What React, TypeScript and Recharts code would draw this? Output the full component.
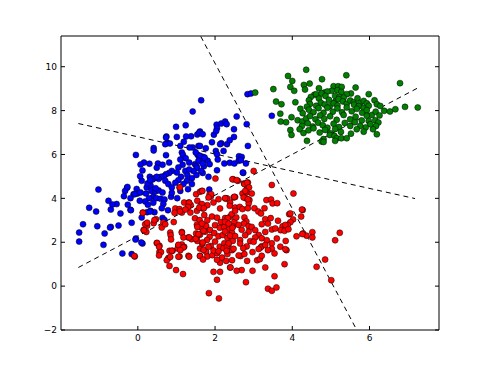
import { ReferenceLine, Scatter, ScatterChart, XAxis, YAxis } from "recharts";

type Pt = [number, number];

// points, in data units
const blue: Pt[] = [
  [1.64, 8.47], [1.42, 7.96], [1.24, 7.33], [0.99, 7.26], [1.61, 7.05], [1.54, 6.91], [1.38, 6.83], [1.25, 6.82],
  [0.74, 6.82], [0.76, 6.53], [0.83, 6.5], [1.19, 6.58], [1.42, 6.32], [0.41, 6.29], [0.41, 6.18], [1.14, 6.09],
  [1.17, 5.98], [0.73, 5.97], [-0.05, 5.98], [1.24, 5.83], [1.1, 5.77], [1.33, 5.63], [1.48, 5.56], [0.16, 5.63],
  [0.07, 5.54], [0.52, 5.59], [0.64, 5.53], [0.81, 5.63], [0.12, 5.27], [0.88, 5.25], [0.81, 5.16], [0.73, 5.1],
  [0.67, 5.01], [0.6, 4.98], [0.54, 4.89], [0.43, 4.92], [1.23, 5.25], [1.28, 5.06], [1.12, 4.98], [1.05, 4.83],
  [0.97, 4.71], [0.31, 4.98], [0.38, 4.86], [1.4, 4.92], [1.52, 5.07], [-0.28, 4.48], [-0.33, 4.34], [-0.03, 4.43],
  [0.23, 4.5], [0.33, 4.59], [-1.02, 4.4], [-0.01, 4.22], [0.07, 4.27], [0.21, 4.22], [0.35, 4.34], [0.45, 4.31],
  [0.54, 4.36], [0.64, 4.27], [0.4, 4.07], [0.48, 4.01], [0.59, 3.98], [0.69, 3.95], [0.29, 4.01], [0.19, 3.86],
  [0.05, 3.89], [0.26, 3.71], [0.4, 3.8], [0.66, 3.74], [0.62, 3.55], [0.86, 4.07], [0.88, 4.25], [1.02, 4.01],
  [0.43, 3.37], [0.33, 3.43], [-0.26, 3.71], [-0.19, 3.48], [-0.55, 3.74], [-0.66, 3.72], [-0.7, 3.49], [-1.26, 3.57],
  [-1.08, 3.4], [-0.45, 3.31], [0.64, 3.11], [0.69, 3.01], [-0.16, 2.89], [-1.42, 2.82], [-1.05, 2.73], [-0.7, 2.7],
  [-0.5, 2.76], [-0.86, 2.4], [-1.52, 2.44], [-1.52, 2.03], [-0.05, 2.17], [0.12, 1.94], [-0.89, 1.88], [-0.4, 1.49],
  [-0.16, 1.46], [2.84, 8.75], [2.93, 8.78], [2.56, 7.73], [2.04, 7.36], [2.16, 7.41], [2.26, 7.5], [2.3, 7.38],
  [2.05, 7.2], [2.49, 7.15], [2.82, 7.38], [1.59, 7.0], [1.68, 6.92], [1.97, 6.9], [2.49, 6.8], [1.92, 6.56],
  [2.16, 6.51], [2.31, 6.47], [2.38, 6.65], [1.57, 6.39], [2.85, 6.39], [1.76, 6.28], [2.02, 6.16], [2.05, 6.01],
  [2.07, 5.77], [1.55, 5.98], [1.6, 5.86], [1.69, 5.89], [1.74, 5.77], [1.81, 5.71], [1.66, 5.68], [2.62, 5.92],
  [2.61, 5.71], [2.38, 5.62], [2.24, 5.59], [2.5, 5.59], [2.8, 5.59], [1.52, 5.48], [1.71, 5.46], [1.86, 5.56],
  [2.05, 5.28], [2.73, 5.16], [1.68, 5.16], [1.83, 4.98], [1.85, 4.4], [3.47, 7.76], [2.69, 5.89], [2.67, 5.74],
  [2.72, 5.18], [1.5, 6.09], [1.61, 5.94], [1.73, 5.86], [1.57, 5.71], [1.68, 5.59], [1.53, 5.38], [1.64, 5.25],
  [1.44, 5.25], [1.33, 5.32], [1.16, 5.53], [1.05, 5.41], [1.01, 5.18], [1.27, 4.8], [1.18, 4.65], [1.4, 4.65],
  [1.3, 4.42], [1.1, 4.34], [0.71, 4.8], [0.79, 4.65], [0.88, 4.5], [0.1, 4.8], [-0.11, 4.19], [-0.19, 4.01],
  [-0.36, 4.1], [-0.76, 3.89], [0.24, 3.37], [0.78, 3.46], [0.1, 3.13], [-0.27, 4.52], [-0.08, 4.19], [0.06, 5.01],
  [0.25, 4.68], [0.32, 4.83], [0.46, 4.46], [0.49, 4.98], [0.32, 3.4], [-0.72, 2.67], [-0.18, 3.46], [0.09, 1.99],
  [-0.06, 2.12], [0.73, 6.77], [0.71, 6.47], [1.01, 6.8], [1.1, 6.39], [1.34, 6.32], [1.61, 6.39], [2.03, 7.07],
  [2.13, 6.47], [2.22, 6.16], [0.3, 5.58], [0.49, 5.4],
];

const red: Pt[] = [
  [2.01, 4.9], [1.08, 4.49], [1.51, 4.19], [1.61, 4.3], [1.86, 4.19], [1.89, 4.08], [1.2, 3.81], [1.32, 3.81],
  [1.37, 3.69], [0.97, 3.54], [1.08, 3.51], [1.14, 3.35], [1.36, 3.35], [1.53, 3.43], [1.68, 3.54], [1.8, 3.69],
  [1.96, 3.81], [2.09, 3.96], [2.13, 3.54], [2.27, 3.99], [2.39, 3.81], [2.48, 4.04], [0.13, 3.35], [0.47, 3.05],
  [0.41, 2.87], [0.24, 2.75], [0.15, 2.56], [0.22, 2.47], [0.84, 2.44], [0.85, 2.32], [0.66, 2.9], [0.62, 2.67],
  [1.14, 2.47], [1.31, 2.22], [1.39, 2.14], [1.53, 2.26], [0.49, 1.96], [0.56, 1.84], [1.05, 1.84], [1.14, 1.9],
  [1.2, 1.79], [1.03, 1.71], [0.82, 1.61], [0.9, 1.61], [0.56, 1.56], [-0.08, 1.35], [1.08, 1.35], [1.31, 1.38],
  [0.82, 0.92], [0.99, 0.73], [1.17, 0.55], [1.61, 1.71], [1.77, 1.56], [1.8, 1.35], [1.93, 1.41], [2.05, 1.5],
  [1.61, 1.38], [2.13, 1.07], [1.96, 0.65], [2.05, 0.29], [2.13, 0.65], [2.39, 0.85], [1.84, -0.32], [2.1, -0.56],
  [1.48, 3.09], [1.6, 3.01], [1.72, 3.24], [1.8, 3.0], [1.92, 3.17], [2.05, 3.12], [2.15, 2.92], [2.26, 3.1],
  [2.39, 3.16], [2.5, 2.93], [1.53, 2.8], [1.66, 2.64], [1.77, 2.74], [1.87, 2.56], [2.0, 2.78], [2.12, 2.66],
  [2.24, 2.7], [2.35, 2.58], [2.46, 2.72], [1.51, 2.4], [1.61, 2.34], [1.74, 2.48], [1.86, 2.25], [1.98, 2.42],
  [2.09, 2.27], [2.2, 2.33], [2.32, 2.2], [2.44, 2.43], [1.54, 2.06], [1.67, 1.92], [1.79, 2.1], [1.89, 1.83],
  [2.0, 2.03], [2.12, 1.8], [2.24, 1.95], [2.35, 1.9], [2.46, 2.06], [1.7, 1.65], [1.83, 1.79], [1.96, 1.62],
  [2.09, 1.59], [2.22, 1.73], [2.32, 1.46], [2.44, 1.64], [2.18, 1.3], [2.29, 1.15], [2.05, 1.2],
  [3.0, 5.25], [2.47, 4.87], [2.59, 4.8], [2.75, 4.68], [2.85, 4.72], [2.83, 4.52], [3.47, 4.61], [4.03, 4.22],
  [2.71, 4.22], [2.82, 4.28], [2.95, 4.22], [2.31, 4.0], [2.52, 4.06], [2.8, 4.0], [2.89, 3.92], [2.87, 3.77],
  [3.33, 3.92], [3.45, 3.95], [3.49, 3.77], [3.61, 3.78], [2.38, 3.66], [2.52, 3.58], [2.64, 3.61], [2.71, 3.51],
  [2.85, 3.55], [3.02, 3.55], [3.12, 3.4], [3.19, 3.31], [3.28, 3.55], [4.27, 3.47], [4.23, 3.17], [3.92, 3.28],
  [4.02, 3.04], [3.95, 2.91], [3.88, 2.79], [2.43, 3.28], [2.52, 3.43], [2.33, 3.1], [2.55, 3.13], [2.76, 3.13],
  [2.81, 2.95], [2.75, 2.85], [2.87, 2.73], [3.3, 3.05], [3.44, 3.1], [3.37, 2.85], [3.21, 2.82], [3.63, 2.98],
  [3.75, 2.73], [3.82, 2.79], [3.7, 2.55], [3.8, 2.52], [3.9, 2.59], [4.11, 2.27], [4.28, 2.4], [4.37, 2.3],
  [4.52, 2.46], [4.52, 2.22], [5.23, 2.43], [5.11, 2.09], [3.83, 2.06], [3.85, 1.64], [4.85, 1.21], [4.63, 0.88],
  [5.01, 0.27], [3.54, 0.45], [3.37, -0.12], [3.47, -0.21], [3.59, -0.06], [3.8, 1.0], [3.3, 0.85], [2.8, 0.18],
  [2.97, 0.7], [2.69, 0.73], [2.56, 0.7], [2.4, 0.85], [2.44, 1.18], [2.66, 1.37], [2.83, 1.15], [3.09, 1.18],
  [3.16, 1.23], [3.21, 1.38], [2.97, 1.55], [3.21, 1.82], [3.18, 1.76],
  [2.26, 2.93], [2.35, 2.85], [2.45, 2.66], [2.61, 2.79], [2.69, 2.57], [2.87, 2.48], [2.95, 2.7], [3.04, 2.55],
  [3.13, 2.33], [3.3, 2.47], [3.47, 2.58], [3.56, 2.63], [2.26, 2.49], [2.39, 2.3], [2.52, 2.28], [2.65, 2.1],
  [2.78, 2.32], [2.91, 2.05], [3.04, 2.22], [3.21, 2.18], [3.34, 2.09], [3.47, 1.95], [3.6, 2.17], [2.31, 1.8],
  [2.48, 1.7], [2.65, 1.94], [2.82, 1.81], [3.0, 2.02], [3.13, 1.69], [3.3, 1.87], [3.47, 1.7], [3.69, 1.8],
  [3.82, 1.68], [2.35, 1.95], [2.73, 1.73], [2.76, 1.46], [2.61, 1.4], [2.3, 1.61], [3.37, 1.64], [3.54, 1.49],
  [1.09, 4.5], [1.66, 4.34], [1.54, 3.89], [1.66, 3.74], [1.59, 3.58], [1.71, 3.55], [1.33, 3.8], [1.3, 3.61],
  [1.23, 3.49], [1.09, 3.4], [0.95, 3.34], [0.13, 3.34], [0.19, 2.82], [0.24, 2.89], [0.16, 2.55], [0.43, 3.01],
  [0.71, 2.82], [0.93, 2.92], [1.14, 2.43], [1.18, 2.22], [1.33, 2.22], [1.5, 2.16], [1.57, 2.37], [1.7, 2.52],
  [1.66, 2.85], [1.54, 2.7], [1.68, 1.99], [0.5, 1.97], [0.55, 1.79], [0.86, 2.13], [1.05, 1.88], [1.18, 1.76],
  [1.1, 1.64], [0.88, 1.61], [0.79, 1.28], [0.6, 1.55], [0.55, 1.4], [-0.09, 1.37], [1.61, 1.37], [1.69, 1.21],
  [1.33, 1.34], [1.05, 1.34], [2.45, 4.87], [2.56, 4.83], [2.76, 4.65], [2.83, 4.71], [2.88, 4.5], [2.78, 4.34],
  [1.67, 4.34], [1.9, 4.19], [1.83, 4.04], [2.26, 4.01], [2.5, 4.07], [2.74, 4.04], [2.85, 3.96], [4.25, 3.49],
  [3.95, 3.31], [4.26, 2.37], [0.75, 1.18], [0.84, 1.33],
];

const green: Pt[] = [
  [4.36, 9.86], [5.4, 9.61], [3.89, 9.58], [4.77, 9.43], [4.0, 9.35], [6.79, 9.25], [4.3, 9.17], [4.45, 9.23],
  [3.95, 9.08], [4.05, 8.9], [4.33, 8.96], [3.51, 8.98], [4.69, 9.02], [5.07, 9.11], [5.19, 9.11], [5.28, 9.08],
  [5.17, 8.93], [5.27, 8.85], [5.02, 8.9], [4.83, 8.82], [4.91, 8.87], [5.64, 9.05], [5.52, 8.78], [5.41, 8.75],
  [5.98, 8.75], [4.57, 8.72], [4.48, 8.62], [4.62, 8.75], [4.76, 8.78], [4.86, 8.67], [5.11, 8.67], [5.22, 8.62],
  [5.33, 8.59], [3.58, 8.41], [3.72, 8.29], [4.08, 8.38], [4.43, 8.47], [4.46, 8.3], [4.38, 8.18], [4.69, 8.55],
  [4.74, 8.36], [4.62, 8.22], [4.84, 8.28], [4.95, 8.49], [4.97, 8.2], [5.11, 8.4], [5.2, 8.52], [5.07, 8.33],
  [5.17, 8.23], [5.31, 8.42], [5.41, 8.31], [5.5, 8.46], [5.59, 8.38], [5.69, 8.56], [5.76, 8.35], [5.85, 8.44],
  [5.93, 8.33], [5.6, 8.27], [5.72, 8.2], [5.85, 8.12], [5.98, 8.22], [6.13, 8.47], [6.19, 8.29], [6.28, 8.21],
  [6.38, 7.99], [6.53, 7.96], [6.67, 8.06], [6.92, 8.17], [7.25, 8.14], [4.21, 8.08], [4.27, 7.88], [4.43, 8.04],
  [4.55, 7.93], [4.68, 8.11], [4.81, 7.9], [4.91, 8.13], [5.05, 7.95], [5.17, 8.1], [5.29, 7.92], [5.41, 8.14],
  [5.54, 7.97], [5.67, 8.08], [5.81, 7.9], [5.93, 8.02], [6.06, 7.8], [6.16, 7.95], [6.26, 7.78], [3.69, 7.86],
  [3.98, 7.7], [4.14, 7.56], [4.26, 7.5], [4.36, 7.64], [4.46, 7.75], [4.6, 7.6], [4.72, 7.78], [4.83, 7.62],
  [4.98, 7.74], [5.15, 7.58], [5.33, 7.8], [5.5, 7.6], [5.64, 7.72], [5.8, 7.55], [5.93, 7.76], [3.7, 7.5],
  [3.84, 7.47], [4.25, 7.3], [4.4, 7.42], [4.53, 7.27], [4.67, 7.45], [4.79, 7.33], [4.91, 7.22], [5.07, 7.4],
  [5.21, 7.25], [5.36, 7.44], [5.5, 7.3], [5.62, 7.47], [6.15, 7.56], [6.23, 7.46], [6.17, 7.3], [6.09, 7.15],
  [3.95, 7.11], [3.98, 6.89], [4.19, 7.15], [4.29, 6.98], [4.42, 7.1], [4.55, 7.19], [4.71, 7.0], [4.85, 7.12],
  [4.98, 6.97], [5.11, 7.16], [5.26, 7.03], [4.97, 6.89], [5.09, 6.85], [4.81, 6.7], [4.76, 6.59], [5.15, 6.74],
  [5.27, 6.74], [5.41, 6.74], [5.52, 6.95], [6.19, 6.92], [4.38, 6.62], [3.04, 8.82], [4.81, 6.57], [5.11, 6.62],
  [5.98, 7.53], [6.02, 7.38], [5.9, 7.23], [5.76, 7.3], [5.67, 7.15], [5.85, 7.04],
];

// dashed separating lines (end points in data units)
const lineA = [{ x: -1.54, y: 0.85 }, { x: 7.27, y: 9.05 }];
const lineB = [{ x: -1.54, y: 7.41 }, { x: 7.18, y: 3.99 }];
const lineC = [{ x: 1.63, y: 11.38 }, { x: 5.67, y: -2.0 }];

const xTicks = [0, 2, 4, 6];
const yTicks = [-2, 0, 2, 4, 6, 8, 10];
const xDomain = [-1.99, 7.8];
const yDomain = [-2, 11.4];

const toRows = (pts: Pt[]) => pts.map(([x, y]) => ({ x, y }));
const fmt = (v: number) => (v < 0 ? `\u2212${-v}` : `${v}`);
const blank = () => "";

const tickFont = { fill: "#000", fontSize: 9, fontFamily: "DejaVu Sans, sans-serif" };
const black = { stroke: "#000" };

const dot = (fill: string) => (p: any) => (
  <circle cx={p.cx} cy={p.cy} r={3} fill={fill} stroke="#000" strokeWidth={0.5} />
);

export default function App() {
  return (
    <div style={{ position: "fixed", left: 0, top: 0, width: 487, height: 367, background: "#fff" }}>
      <ScatterChart width={487} height={367} margin={{ top: 35, right: 47, bottom: 7, left: 0 }}>
        <XAxis
          xAxisId="b"
          type="number"
          dataKey="x"
          domain={xDomain}
          ticks={xTicks}
          allowDataOverflow
          height={30}
          tickSize={-4}
          tickMargin={9}
          tickFormatter={fmt}
          tick={tickFont}
          axisLine={black}
          tickLine={black}
        />
        <XAxis
          xAxisId="t"
          orientation="top"
          type="number"
          dataKey="x"
          domain={xDomain}
          ticks={xTicks}
          allowDataOverflow
          height={1}
          tickSize={-4}
          tickFormatter={blank}
          axisLine={black}
          tickLine={black}
        />
        <YAxis
          yAxisId="l"
          type="number"
          dataKey="y"
          domain={yDomain}
          ticks={yTicks}
          allowDataOverflow
          width={61}
          tickSize={-4}
          tickMargin={8}
          tickFormatter={fmt}
          tick={tickFont}
          axisLine={black}
          tickLine={black}
        />
        <YAxis
          yAxisId="r"
          orientation="right"
          type="number"
          dataKey="y"
          domain={yDomain}
          ticks={yTicks}
          allowDataOverflow
          width={1}
          tickSize={-4}
          tickFormatter={blank}
          axisLine={black}
          tickLine={black}
        />
        <Scatter data={toRows(blue)} xAxisId="b" yAxisId="l" shape={dot("#0000ff")} isAnimationActive={false} />
        <Scatter data={toRows(red)} xAxisId="b" yAxisId="l" shape={dot("#ff0000")} isAnimationActive={false} />
        <Scatter data={toRows(green)} xAxisId="b" yAxisId="l" shape={dot("#007f00")} isAnimationActive={false} />
        <ReferenceLine segment={lineA} xAxisId="b" yAxisId="l" stroke="#000" strokeDasharray="5 4" ifOverflow="visible" />
        <ReferenceLine segment={lineB} xAxisId="b" yAxisId="l" stroke="#000" strokeDasharray="5 4" ifOverflow="visible" />
        <ReferenceLine segment={lineC} xAxisId="b" yAxisId="l" stroke="#000" strokeDasharray="5 4" ifOverflow="visible" />
      </ScatterChart>
    </div>
  );
}
